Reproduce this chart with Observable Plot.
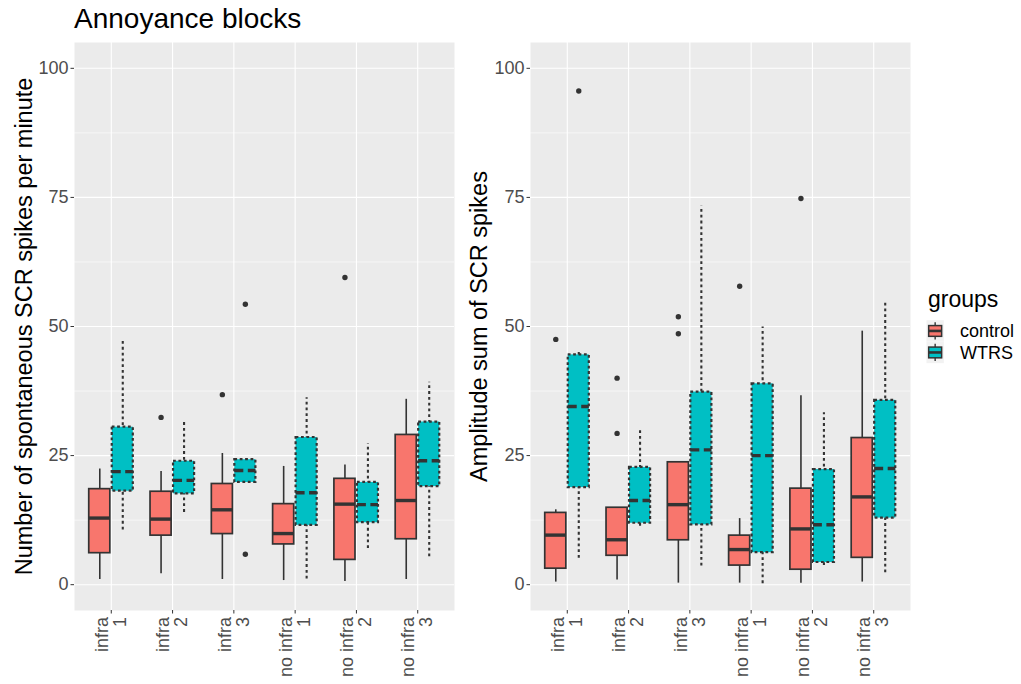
<!DOCTYPE html>
<html><head><meta charset="utf-8">
<script src="https://cdn.jsdelivr.net/npm/d3@7"></script>
<script src="https://cdn.jsdelivr.net/npm/@observablehq/plot@0.6"></script>
<style>
body{margin:0;background:#fff;font-family:"Liberation Sans",Arial,sans-serif;}
#wrap{position:relative;width:1021px;height:684px;overflow:hidden;background:#fff;}
#title{position:absolute;left:74px;top:4.6px;font-size:28px;line-height:28px;color:#000;white-space:nowrap;}
#left{position:absolute;left:0;top:0;}
#right{position:absolute;left:460px;top:0;}
#legend{position:absolute;left:920px;top:280px;}
</style></head><body>
<div id="wrap"><div id="title">Annoyance blocks</div><div id="left"></div><div id="right"></div><div id="legend"></div></div>
<script>
// ---- data ----
const categories = ["infra 1","infra 2","infra 3","no infra 1","no infra 2","no infra 3"];
const tickLabels = ["infra\n1","infra\n2","infra\n3","no infra\n1","no infra\n2","no infra\n3"];
const groups = ["control","WTRS"];
const yTicks = [0,25,50,75,100];
const yMinor = [12.5,37.5,62.5,87.5];

// left panel: spontaneous SCR spikes per minute
const rateControlLow  = [1.0, 2.1, 1.0, 0.8, 0.6, 1.0];
const rateControlQ1   = [6.1, 9.5, 9.8, 7.8, 4.8, 8.8];
const rateControlMed  = [12.9, 12.7, 14.5, 9.9, 15.6, 16.3];
const rateControlQ3   = [18.5, 18.0, 19.5, 15.6, 20.5, 29.0];
const rateControlHigh = [22.4, 21.9, 25.4, 22.9, 23.2, 35.9];
const rateControlOut  = [[], [32.4], [36.8], [], [59.5], []];
const rateWtrsLow  = [10.6, 14.0, 19.8, 1.1, 7.0, 5.4];
const rateWtrsQ1   = [18.1, 17.6, 19.8, 11.5, 12.0, 19.0];
const rateWtrsMed  = [21.9, 20.2, 22.1, 17.8, 15.5, 24.0];
const rateWtrsQ3   = [30.5, 23.9, 24.2, 28.5, 19.8, 31.5];
const rateWtrsHigh = [47.3, 31.6, 24.2, 36.2, 27.3, 39.2];
const rateWtrsOut  = [[], [], [54.3, 5.9], [], [], []];

// right panel: amplitude sum of SCR spikes
const ampControlLow  = [0.5, 0.9, 0.3, 0.3, 0.3, 0.5];
const ampControlQ1   = [3.1, 5.6, 8.6, 3.7, 2.9, 5.2];
const ampControlMed  = [9.6, 8.7, 15.5, 6.8, 10.8, 17.0];
const ampControlQ3   = [13.9, 14.9, 23.7, 9.5, 18.6, 28.4];
const ampControlHigh = [14.5, 14.9, 23.7, 12.8, 36.6, 49.1];
const ampControlOut  = [[47.5], [40.0, 29.3], [51.9, 48.6], [57.8], [74.8], []];
const ampWtrsLow  = [5.1, 11.3, 3.6, 0.2, 3.7, 2.3];
const ampWtrsQ1   = [18.8, 11.9, 11.6, 6.2, 4.3, 12.9];
const ampWtrsMed  = [34.5, 16.3, 26.1, 25.0, 11.6, 22.5];
const ampWtrsQ3   = [44.5, 22.7, 37.3, 38.9, 22.3, 35.7];
const ampWtrsHigh = [45.1, 30.3, 73.3, 49.9, 33.3, 55.0];
const ampWtrsOut  = [[95.6], [], [], [], [], []];

// ---- styles ----
const fills = {control: "#F8766D", WTRS: "#00BFC4"};
const boxDash = {control: null, WTRS: "2.8,2.6"};
const whiskDash = {control: null, WTRS: "2.8,3"};
const medDash = {control: null, WTRS: "9,4.5"};
const boxWidth = {control: 1.7, WTRS: 2.2};
const whiskWidth = {control: 1.6, WTRS: 2.1};
const dodge = {control: -0.1875, WTRS: 0.1875};
const hw = 0.172;
const positions = categories.map((c, i) => i + 1);
const FONT = '"Liberation Sans", Arial, Helvetica, sans-serif';

function rows(low, q1, med, q3, high, group) {
  return categories.map((c, i) => ({cat: c, group, x: i + 1 + dodge[group],
    low: low[i], q1: q1[i], med: med[i], q3: q3[i], high: high[i]}));
}
function outs(arr, group) {
  return arr.flatMap((vals, i) => vals.map(v => ({cat: categories[i], group, x: i + 1 + dodge[group], v})));
}

function panel(series, yTitle, mL, mR, titleDx) {
  const marks = [
    Plot.frame({fill: "#EBEBEB", stroke: "none"}),
    Plot.ruleY(yMinor, {stroke: "#fff", strokeWidth: 0.55}),
    Plot.ruleY(yTicks, {stroke: "#fff", strokeWidth: 1.1}),
    Plot.ruleX(positions, {stroke: "#fff", strokeWidth: 1.1})
  ];
  for (const s of series) {
    const g = s.group;
    marks.push(Plot.ruleX(s.rows, {x: "x", y1: "low", y2: "high", stroke: "#333", strokeWidth: whiskWidth[g], strokeDasharray: whiskDash[g]}));
    marks.push(Plot.rect(s.rows, {x1: d => d.x - hw, x2: d => d.x + hw, y1: "q1", y2: "q3", fill: fills[g], stroke: "#333", strokeWidth: boxWidth[g], strokeDasharray: boxDash[g]}));
    marks.push(Plot.ruleY(s.rows, {y: "med", x1: d => d.x - hw, x2: d => d.x + hw, stroke: "#333", strokeWidth: 3.4, strokeDasharray: medDash[g]}));
    marks.push(Plot.dot(s.outs, {x: "x", y: "v", r: 2.7, fill: "#333"}));
  }
  marks.push(Plot.axisY({ticks: yTicks, tickSize: 3.5, tickPadding: 2.5, stroke: "#333", fill: "#4D4D4D", fontSize: 18, label: null}));
  marks.push(Plot.axisX({ticks: positions, tickFormat: i => tickLabels[i - 1], tickSize: 3.5, tickPadding: 3,
    tickRotate: -90, textAnchor: "end", lineAnchor: "middle", stroke: "#333", fill: "#4D4D4D", fontSize: 18, label: null}));
  marks.push(Plot.text([yTitle], {text: d => d, frameAnchor: "left", textAnchor: "middle", dx: titleDx, rotate: -90, fontSize: 23.5, fill: "#000"}));
  return Plot.plot({
    width: 460, height: 684,
    marginLeft: mL, marginRight: mR, marginTop: 42, marginBottom: 74,
    x: {type: "linear", domain: [0.4, 6.6]},
    y: {domain: [-5, 105]},
    style: {fontFamily: FONT, fontSize: "18px", background: "transparent", overflow: "visible"},
    marks
  });
}

const leftSeries = [
  {group: "control", rows: rows(rateControlLow, rateControlQ1, rateControlMed, rateControlQ3, rateControlHigh, "control"), outs: outs(rateControlOut, "control")},
  {group: "WTRS", rows: rows(rateWtrsLow, rateWtrsQ1, rateWtrsMed, rateWtrsQ3, rateWtrsHigh, "WTRS"), outs: outs(rateWtrsOut, "WTRS")}
];
const rightSeries = [
  {group: "control", rows: rows(ampControlLow, ampControlQ1, ampControlMed, ampControlQ3, ampControlHigh, "control"), outs: outs(ampControlOut, "control")},
  {group: "WTRS", rows: rows(ampWtrsLow, ampWtrsQ1, ampWtrsMed, ampWtrsQ3, ampWtrsHigh, "WTRS"), outs: outs(ampWtrsOut, "WTRS")}
];

document.getElementById("left").append(panel(leftSeries, "Number of spontaneous SCR spikes per minute", 74, 6, -49.6));
document.getElementById("right").append(panel(rightSeries, "Amplitude sum of SCR spikes", 70, 10, -50.6));

// ---- legend ----
const leg = d3.select("#legend").append("svg").attr("width", 101).attr("height", 100)
  .style("font-family", FONT);
leg.append("text").attr("x", 8).attr("y", 27).attr("font-size", 23).text("groups");
const kw = 17.3, kh = 21.5;
groups.forEach((g, i) => {
  const y0 = 40.2 + i * kh, x0 = 6.5;
  const k = leg.append("g").attr("transform", `translate(${x0},${y0})`);
  k.append("rect").attr("width", kw).attr("height", kh).attr("fill", "#F2F2F2");
  k.append("line").attr("x1", kw/2).attr("x2", kw/2).attr("y1", kh*0.1).attr("y2", kh*0.9).attr("stroke", "#333").attr("stroke-width", 1.4);
  k.append("rect").attr("x", kw*0.125).attr("y", kh*0.25).attr("width", kw*0.75).attr("height", kh*0.5)
    .attr("fill", fills[g]).attr("stroke", "#333").attr("stroke-width", 1.5);
  k.append("line").attr("x1", kw*0.125).attr("x2", kw*0.875).attr("y1", kh/2).attr("y2", kh/2).attr("stroke", "#333").attr("stroke-width", 2.6);
  leg.append("text").attr("x", 40).attr("y", y0 + kh/2 + 6.3).attr("font-size", 18).text(g);
});
</script>
</body></html>
